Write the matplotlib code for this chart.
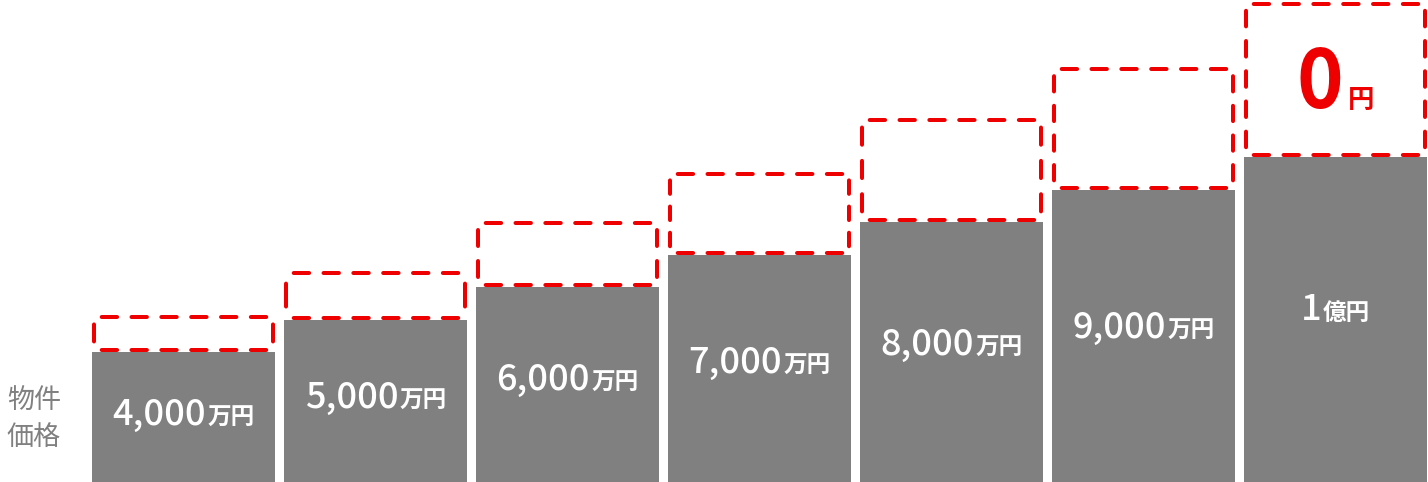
import matplotlib
matplotlib.use("Agg")
import matplotlib.pyplot as plt
from matplotlib.transforms import offset_copy

plt.rcParams['font.family'] = ['Noto Sans CJK JP', 'DejaVu Sans']
plt.rcParams['lines.scale_dashes'] = False

# 物件価格（万円）
prices = [4000, 5000, 6000, 7000, 8000, 9000, 10000]
price_nums = ["4,000", "5,000", "6,000", "7,000", "8,000", "9,000", "1"]
price_units = ["万円", "万円", "万円", "万円", "万円", "万円", "億円"]
# 点線枠の高さ（万円）
extra = [1140, 1490, 2030, 2540, 3200, 3770, 4770]
highlight_num = "0"
highlight_unit = "円"
side_label = ["物件", "価格"]

GRAY = "#808080"
RED = "#ee0000"

W, H = 1428, 482
fig = plt.figure(figsize=(W / 100, H / 100), dpi=100)
ax = fig.add_axes([0, 0, 1, 1])
XLIM = (-0.9557, 6.4818)
YLIM = (0, 14831)
ax.set_xlim(*XLIM)
ax.set_ylim(*YLIM)
ax.axis('off')

px_x = (XLIM[1] - XLIM[0]) / W
px_y = (YLIM[1] - YLIM[0]) / H
bar_w = 0.953

xs = list(range(len(prices)))
ax.bar(xs, prices, width=bar_w, color=GRAY, zorder=1)


def dashed_side(x0, y0, x1, y1, lw_px=4.0, period_px=31.0, dash_px=20.0):
    # 角が半分のダッシュで揃うように周期を調整
    length = ((x1 - x0) / px_x) ** 2 + ((y1 - y0) / px_y) ** 2
    length = length ** 0.5
    n = max(1, round(length / period_px))
    p = length / n
    on = max(dash_px - lw_px, 1.0) * p / period_px
    off = p - on
    k = 72 / 100
    ax.plot([x0, x1], [y0, y1], color=RED, lw=lw_px * k,
            linestyle=(-on / 2 * k, (on * k, off * k)),
            dash_capstyle='round', zorder=3)


inset = 2.0
for x, base, e in zip(xs, prices, extra):
    l = x - bar_w / 2 + inset * px_x
    r = x + bar_w / 2 - inset * px_x
    b = base + inset * px_y
    t = base + e - inset * px_y
    dashed_side(l, t, r, t)
    dashed_side(l, b, r, b)
    dashed_side(l, b, l, t)
    dashed_side(r, b, r, t)

renderer = fig.canvas.get_renderer()


def split_label(xc, yb, big, small, big_size, small_size, color, weight, gap=1.0):
    t1 = ax.text(xc, yb, big, ha='left', va='baseline', fontsize=big_size,
                 fontweight=weight, color=color, zorder=4)
    t2 = ax.text(xc, yb, small, ha='left', va='baseline', fontsize=small_size,
                 fontweight='bold', color=color, zorder=4)
    w1 = t1.get_window_extent(renderer).width
    w2 = t2.get_window_extent(renderer).width
    total = w1 + gap + w2
    t1.set_transform(offset_copy(ax.transData, fig=fig, x=-total / 2, y=0, units='dots'))
    t2.set_transform(offset_copy(ax.transData, fig=fig, x=-total / 2 + w1 + gap, y=0, units='dots'))


for x, base, num, unit in zip(xs, prices, price_nums, price_units):
    yb = base * 0.54 - 13.5 * px_y
    split_label(x, yb, num, unit, 26, 17, "white", 'medium')

# 最後の枠の中の「0円」
last = len(prices) - 1
yc = prices[last] + extra[last] / 2
split_label(xs[last], yc - 29 * px_y, highlight_num, highlight_unit, 57, 19, RED, 'bold', gap=4)

# 左側のラベル
ax.text(34 / W, 1 - 400 / H, side_label[0], transform=ax.transAxes, ha='center',
        va='center', fontsize=19.5, color=GRAY)
ax.text(34 / W, 1 - 437 / H, side_label[1], transform=ax.transAxes, ha='center',
        va='center', fontsize=19.5, color=GRAY)

fig.savefig("out.png", dpi=100)
